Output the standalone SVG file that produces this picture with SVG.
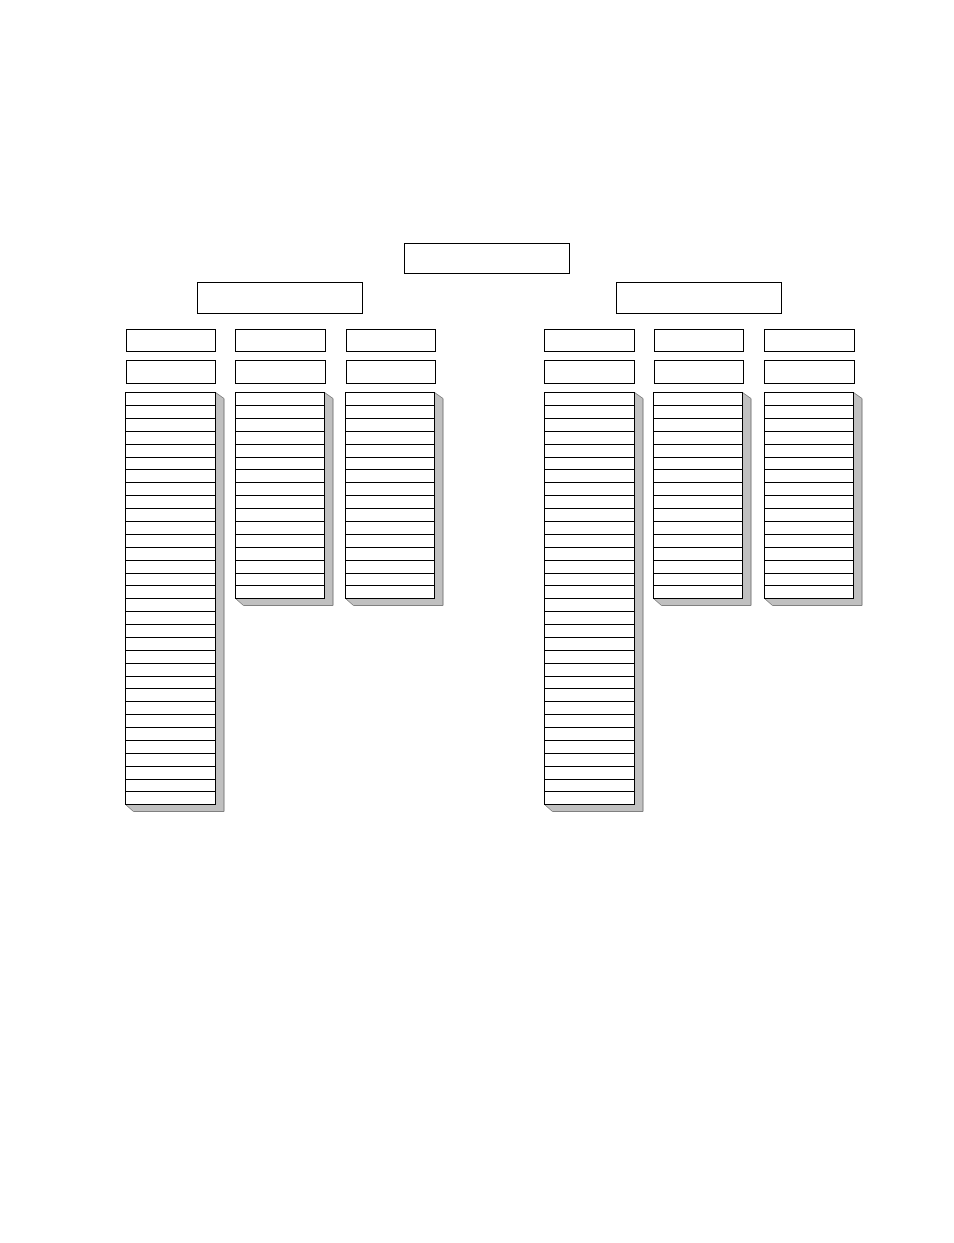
<svg xmlns="http://www.w3.org/2000/svg" xmlns:xlink="http://www.w3.org/1999/xlink" width="954" height="1243" viewBox="0 0 954 1243">
<style>
.box{fill:#fff;stroke:#000;stroke-width:1}
.shadow{fill:#c0c0c0;stroke:#808080;stroke-width:1;stroke-linejoin:miter}
.rows{fill:none;stroke:#000;stroke-width:1}
</style>
<defs>
<g id="shortList">
<polygon class="shadow" points="89,0 97.5,6 97.5,213 8,213 0,206"/>
<rect class="box" x="0" y="0" width="89" height="206"/>
<path class="rows" d="M0,13H89M0,26H89M0,39H89M0,52H89M0,65H89M0,77H89M0,90H89M0,103H89M0,116H89M0,129H89M0,142H89M0,155H89M0,168H89M0,181H89M0,193H89"/>
</g>
<g id="longList">
<polygon class="shadow" points="90,0 98.5,6 98.5,419 8,419 0,412"/>
<rect class="box" x="0" y="0" width="90" height="412"/>
<path class="rows" d="M0,13H90M0,26H90M0,39H90M0,52H90M0,65H90M0,77H90M0,90H90M0,103H90M0,116H90M0,129H90M0,142H90M0,155H90M0,168H90M0,181H90M0,193H90M0,206H90M0,219H90M0,232H90M0,245H90M0,258H90M0,271H90M0,284H90M0,296H90M0,309H90M0,322H90M0,335H90M0,348H90M0,361H90M0,374H90M0,387H90M0,399H90"/>
</g>
</defs>
<rect width="954" height="1243" fill="#fff"/>
<g id="top"><rect class="box" x="404.5" y="243.5" width="165" height="30"/></g>
<g id="left-main"><rect class="box" x="197.5" y="282.5" width="165" height="31"/></g>
<g id="right-main"><rect class="box" x="616.5" y="282.5" width="165" height="31"/></g>
<g id="left-h1-c1"><rect class="box" x="126.5" y="329.5" width="89" height="22"/></g>
<g id="left-h1-c2"><rect class="box" x="235.5" y="329.5" width="90" height="22"/></g>
<g id="left-h1-c3"><rect class="box" x="346.5" y="329.5" width="89" height="22"/></g>
<g id="left-h2-c1"><rect class="box" x="126.5" y="360.5" width="89" height="23"/></g>
<g id="left-h2-c2"><rect class="box" x="235.5" y="360.5" width="90" height="23"/></g>
<g id="left-h2-c3"><rect class="box" x="346.5" y="360.5" width="89" height="23"/></g>
<g id="right-h1-c1"><rect class="box" x="544.5" y="329.5" width="90" height="22"/></g>
<g id="right-h1-c2"><rect class="box" x="654.5" y="329.5" width="89" height="22"/></g>
<g id="right-h1-c3"><rect class="box" x="764.5" y="329.5" width="90" height="22"/></g>
<g id="right-h2-c1"><rect class="box" x="544.5" y="360.5" width="90" height="23"/></g>
<g id="right-h2-c2"><rect class="box" x="654.5" y="360.5" width="89" height="23"/></g>
<g id="right-h2-c3"><rect class="box" x="764.5" y="360.5" width="90" height="23"/></g>
<g id="left-list-c1"><use xlink:href="#longList" href="#longList" x="125.5" y="392.5"/></g>
<g id="left-list-c2"><use xlink:href="#shortList" href="#shortList" x="235.5" y="392.5"/></g>
<g id="left-list-c3"><use xlink:href="#shortList" href="#shortList" x="345.5" y="392.5"/></g>
<g id="right-list-c1"><use xlink:href="#longList" href="#longList" x="544.5" y="392.5"/></g>
<g id="right-list-c2"><use xlink:href="#shortList" href="#shortList" x="653.5" y="392.5"/></g>
<g id="right-list-c3"><use xlink:href="#shortList" href="#shortList" x="764.5" y="392.5"/></g>
<g id="connectors"></g>
</svg>
